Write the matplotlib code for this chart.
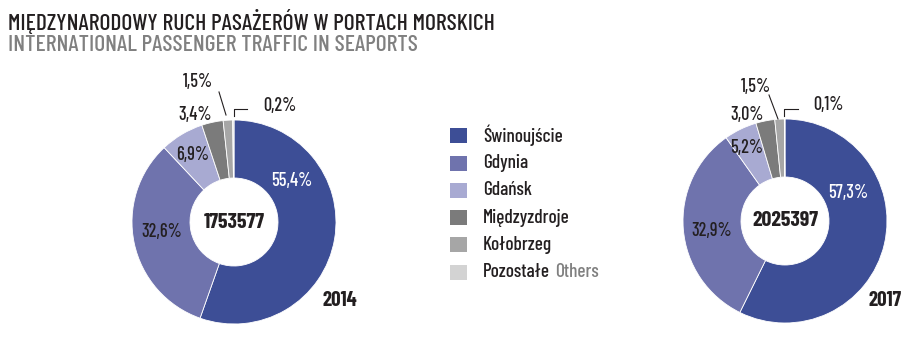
import matplotlib
matplotlib.use("Agg")
import matplotlib.pyplot as plt
from matplotlib import font_manager

# ---- data ----
categories = ["Świnoujście", "Gdynia", "Gdańsk", "Międzyzdroje", "Kołobrzeg", "Pozostałe"]
values_2014 = [55.4, 32.6, 6.9, 3.4, 1.5, 0.2]
values_2017 = [57.3, 32.9, 5.2, 3.0, 1.5, 0.1]
total_2014 = "1753577"
total_2017 = "2025397"
years = ["2014", "2017"]
title_pl = "MIĘDZYNARODOWY RUCH PASAŻERÓW W PORTACH MORSKICH"
title_en = "INTERNATIONAL PASSENGER TRAFFIC IN SEAPORTS"

colors = ["#3d4e96", "#6f73ad", "#a8aad2", "#7b7b7b", "#a6a6a6", "#d3d3d3"]

names = {f.name for f in font_manager.fontManager.ttflist}
FONT = "DejaVu Sans"
for cand in ["Barlow Condensed", "PT Sans Narrow", "Roboto Condensed", "Fira Sans Condensed",
             "Encode Sans Condensed", "Asap Condensed", "Barlow Semi Condensed",
             "Archivo Narrow"]:
    if cand in names:
        FONT = cand
        break
plt.rcParams["font.family"] = [FONT, "DejaVu Sans"]
REG = 500  # medium stroke, closer to the reference

W, H = 920, 339
fig = plt.figure(figsize=(W / 100, H / 100), dpi=100)
ax = fig.add_axes([0, 0, 1, 1])
ax.set_xlim(0, W)
ax.set_ylim(0, H)
renderer = fig.canvas.get_renderer()


def Y(y):
    return H - y


def fit_size(s, target, weight=REG):
    t = ax.text(0, 0, s, fontsize=10, fontweight=weight)
    w = t.get_window_extent(renderer).width
    t.remove()
    return 10 * target / w


TITLE = fit_size(title_pl, 485)
LBL = fit_size("55,4%", 41)
LEG = fit_size(categories[0], 80)
NUM = fit_size(total_2014, 61, weight="bold")
YR = fit_size(years[0], 35, weight="bold")

ax.text(8, Y(21.5), title_pl, ha="left", va="center", fontsize=TITLE,
        fontweight=REG, color="#231f20")
ax.text(8, Y(45), title_en, ha="left", va="center", fontsize=TITLE,
        fontweight=REG, color="#808080")


def fmt(v):
    return f"{v:.1f}".replace(".", ",") + "%"


def donut(vals, cx, cy, total, year, ypos, lab_pos, small):
    ax.pie(vals, colors=colors, startangle=90, counterclock=False,
           center=(cx, Y(cy)), radius=102,
           wedgeprops=dict(width=102 - 44, edgecolor="white", linewidth=0.6),
           frame=True)
    for i, (v, (lx, ly)) in enumerate(zip(vals, lab_pos)):
        col = "white" if i == 0 else "#231f20"
        ax.text(lx, Y(ly), fmt(v), ha="center", va="center", fontsize=LBL,
                fontweight=REG, color=col)
    ax.text(cx, Y(cy), total, ha="center", va="center", fontsize=NUM,
            fontweight="bold", color="#231f20")
    ax.text(ypos[0], Y(ypos[1]), year, ha="center", va="center",
            fontsize=YR, fontweight="bold", color="#231f20")
    (a, b) = small
    ax.plot([a[0], a[2]], [Y(a[1]), Y(a[3])], color="#231f20", lw=0.8)
    ax.plot([b[0], b[0], b[2]], [Y(b[1]), Y(b[3]), Y(b[3])], color="#231f20", lw=0.8)


donut(values_2014, 234, 222, total_2014, years[0], (340, 300),
      [(292, 181), (162, 232), (193, 155), (195, 115), (198, 82), (280, 106)],
      ((219, 92, 226, 115), (234, 116, 247, 109)))
donut(values_2017, 785, 221, total_2017, years[1], (885, 300),
      [(848, 193), (712, 231), (747, 148), (747, 115), (756, 87), (828, 105)],
      ((769, 95, 778, 119), (784, 116, 798, 109)))

# legend
leg_y0, leg_dy = 135.7, 27.3
for i, (c, name) in enumerate(zip(colors, categories)):
    y = leg_y0 + i * leg_dy
    ax.add_patch(plt.Rectangle((450, Y(y) - 7.5), 17, 15, color=c, lw=0))
    t = ax.text(483, Y(y), name, ha="left", va="center", fontsize=LEG,
                fontweight=REG, color="#231f20")
    if i == len(categories) - 1:
        ax.annotate("Others", xycoords=t, xy=(1, 0.5), xytext=(4, 0),
                    textcoords="offset points", va="center", ha="left",
                    fontsize=LEG, fontweight=REG, color="#808080")

ax.set_xlim(0, W)
ax.set_ylim(0, H)
ax.set_aspect("auto")
ax.axis("off")
fig.savefig("out.png", dpi=100, facecolor="white")
